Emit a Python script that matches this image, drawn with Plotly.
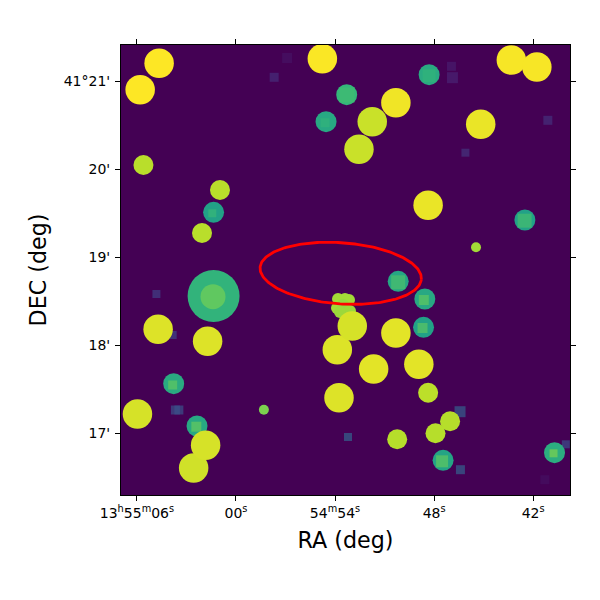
import numpy as np
import plotly.graph_objects as go

# image pixel coordinates, the axes are labelled in sky coordinates
ra_ticks = [16, 115.2, 214.5, 313.8, 413.1]
ra_labels = ["13<sup>h</sup>55<sup>m</sup>06<sup>s</sup>", "00<sup>s</sup>", "54<sup>m</sup>54<sup>s</sup>", "48<sup>s</sup>", "42<sup>s</sup>"]
dec_ticks = [413.7, 325.7, 237.7, 149.7, 61.7]
dec_labels = ["41°21'", "20'", "19'", "18'", "17'"]

large_x = [38.2, 19.2, 201.8, 391.2, 416.8, 275.5, 251.8, 238.5, 360.5, 307.8, 37.2, 86.8, 16.5, 72.8, 84.8, 216.8, 218.5, 231.8, 275.5, 253.2, 298.5]
large_y = [431.7, 405.3, 436.3, 435, 428, 392.3, 373.3, 345.7, 370.7, 289.7, 165.7, 153.7, 81, 27, 49.7, 145.3, 97.3, 169, 162, 126, 130.7]
large_v = [1.0, 1.0, 0.995, 0.99, 0.99, 0.98, 0.92, 0.92, 0.97, 0.97, 0.95, 0.95, 0.94, 0.93, 0.94, 0.95, 0.95, 0.94, 0.96, 0.96, 0.96]

medium_x = [22.5, 99.2, 81.2, 307.8, 329.8, 315.2, 276.8]
medium_y = [330, 305, 262, 102.3, 73.7, 61.7, 55.7]
medium_v = [0.895, 0.895, 0.895, 0.9, 0.89, 0.89, 0.89]

small_x = [355.8, 143.2]
small_y = [247.7, 85.3]
small_v = [0.86, 0.8]

blob_x = [217.5, 224.5, 228.5, 216.5, 222.5, 229.5, 224.5, 219.5]
blob_y = [196, 196, 195, 187, 190, 184, 180, 183]
blob_v = [0.86, 0.86, 0.86, 0.86, 0.84, 0.85, 0.85, 0.85]

ring_x = [205.5, 92.8, 226.2, 308.8, 404.8, 277.8, 304.5, 303.2, 322.8, 434.5, 52.8, 76.2]
ring_y = [373.3, 282.7, 400.3, 420.3, 275, 213.7, 196, 167.7, 34.7, 42.3, 111.3, 69]
ring_v = [0.6, 0.57, 0.66, 0.61, 0.57, 0.59, 0.6, 0.57, 0.58, 0.62, 0.61, 0.6]

core_x = [204.5, 91.5, 226.5, 308.8, 404.5, 277.8, 303.5, 302.2, 321.8, 433.5, 51.8, 75.5]
core_y = [372.3, 281.7, 400, 419.3, 274.3, 212.7, 195, 167, 33.7, 41.7, 110, 68.3]
core_w = [9, 8, 15, 13, 14, 14, 10, 10, 12, 8, 9, 10]
core_v = [0.65, 0.67, 0.69, 0.65, 0.7, 0.71, 0.75, 0.74, 0.75, 0.8, 0.75, 0.76]

big_x = [92.8]
big_y = [199]
big_v = [0.65]
big_core_x = [92.2]
big_core_y = [198.3]
big_core_v = [0.75]

faint_x = [166.5, 153.5, 331.2, 332.2, 345.2, 427.8, 35.5, 51.8, 54.5, 58, 227.5, 339.8, 340.2, 445.8, 424.8]
faint_y = [437, 417.7, 428.7, 417.3, 342.3, 374.7, 201, 160, 85, 85, 58, 83.3, 25.3, 50.7, 15.3]
faint_w = [10, 9, 9, 11, 8, 9, 8, 8, 9, 9, 8, 11, 9, 8, 9]
faint_v = [0.05, 0.13, 0.08, 0.1, 0.15, 0.14, 0.2, 0.21, 0.25, 0.25, 0.32, 0.3, 0.31, 0.24, 0.04]

# the red region: centre, semi axes and tilt
region_x = 220.2
region_y = 221.7
region_a = 81
region_b = 30.6
region_tilt = np.radians(-4.1)

t = np.linspace(0, 2 * np.pi, 240)
ellipse_x = region_x + region_a * np.cos(t) * np.cos(region_tilt) - region_b * np.sin(t) * np.sin(region_tilt)
ellipse_y = region_y + region_a * np.cos(t) * np.sin(region_tilt) + region_b * np.sin(t) * np.cos(region_tilt)


def markers(x, y, v, size, symbol="circle"):
    return go.Scatter(
        x=x, y=y, mode="markers", showlegend=False,
        marker=dict(color=v, cmin=0, cmax=1, colorscale="Viridis", size=size, symbol=symbol, line_width=0),
    )


fig = go.Figure()
fig.add_trace(markers(faint_x, faint_y, faint_v, faint_w, "square"))
fig.add_trace(markers(big_x, big_y, big_v, 52))
fig.add_trace(markers(big_core_x, big_core_y, big_core_v, 25))
fig.add_trace(markers(ring_x, ring_y, ring_v, 21))
fig.add_trace(markers(core_x, core_y, core_v, core_w, "square"))
fig.add_trace(markers(blob_x, blob_y, blob_v, 12))
fig.add_trace(markers(small_x, small_y, small_v, 10))
fig.add_trace(markers(medium_x, medium_y, medium_v, 20))
fig.add_trace(markers(large_x, large_y, large_v, 29.5))
fig.add_trace(go.Scatter(
    x=ellipse_x, y=ellipse_y, mode="lines", showlegend=False,
    line=dict(color="#ff0000", width=2.8),
))

axis_style = dict(
    showgrid=False, zeroline=False, showline=True, linecolor="black", linewidth=1,
    mirror="ticks", ticks="outside", ticklen=5, tickcolor="black", tickwidth=1,
    tickmode="array", range=[0, 450], tickangle=0,
)

fig.update_layout(
    width=600, height=600,
    margin=dict(l=120.5, r=29.5, t=45, b=105),
    paper_bgcolor="white",
    plot_bgcolor="#440154",
    font=dict(family="DejaVu Sans", size=14, color="black"),
)
fig.update_xaxes(
    tickvals=ra_ticks, ticktext=ra_labels,
    title=dict(text="RA (deg)", font=dict(size=22.2), standoff=12),
    **axis_style,
)
fig.update_yaxes(
    tickvals=dec_ticks, ticktext=dec_labels, ticklabelstandoff=2,
    title=dict(text="DEC (deg)", font=dict(size=22.2), standoff=10),
    **axis_style,
)

fig.write_html("out.html", config=dict(displayModeBar=False), post_script="document.body.style.margin = '0';")
